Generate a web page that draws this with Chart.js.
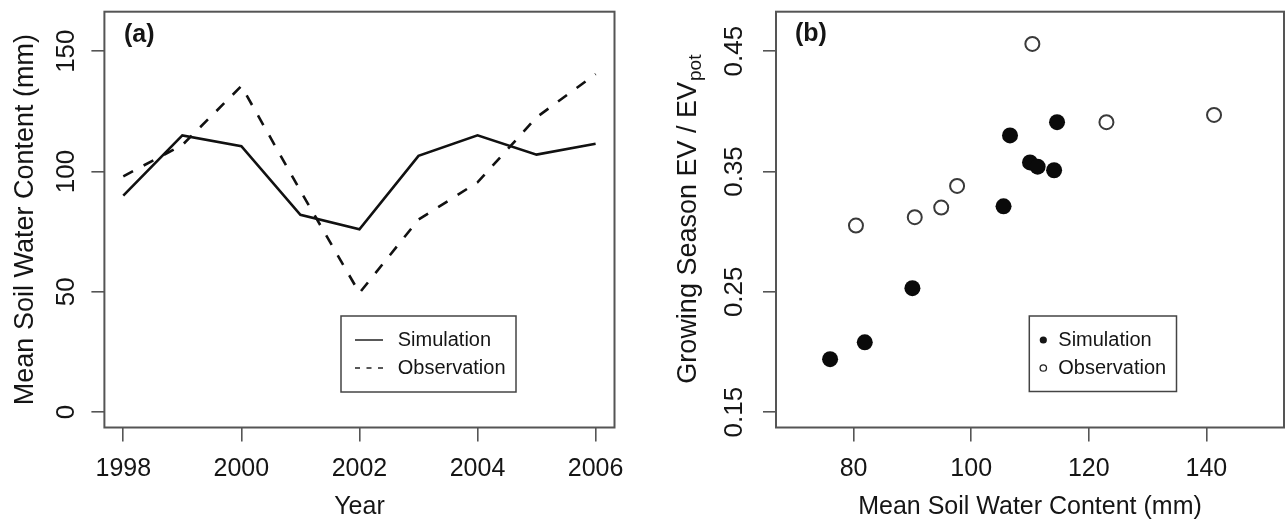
<!DOCTYPE html>
<html>
<head>
<meta charset="utf-8">
<script src="https://cdn.jsdelivr.net/npm/chart.js@4.4.0/dist/chart.umd.min.js"></script>
<style>
  html, body { margin: 0; padding: 0; background: #fff; }
  .panel { position: absolute; top: 0; width: 643px; height: 524px; }
  #left { left: 0; }
  #right { left: 643px; }
</style>
</head>
<body>
<div class="panel" id="left"><canvas id="soilChart"></canvas></div>
<div class="panel" id="right"><canvas id="ratioChart"></canvas></div>
<script>
// panel (a): yearly mean soil water content
const years = [1998, 1999, 2000, 2001, 2002, 2003, 2004, 2005, 2006];
const simulated = [90, 115, 110.5, 82, 76, 106.5, 115, 107, 111.5];
const observed = [98, 111, 135.5, 92, 49.5, 80, 95.5, 122.5, 140.5];
const yearTicks = [1998, 2000, 2002, 2004, 2006];
const soilTicks = [0, 50, 100, 150];

// panel (b): EV / EVpot against soil water
const simSoil = [76.0, 81.9, 90.0, 105.5, 106.6, 110.0, 111.3, 114.1, 114.6];
const simRatio = [0.194, 0.208, 0.253, 0.321, 0.380, 0.3575, 0.354, 0.351, 0.391];
const obsSoil = [80.4, 90.4, 94.9, 97.6, 110.4, 123.0, 141.3];
const obsRatio = [0.305, 0.312, 0.320, 0.338, 0.456, 0.391, 0.397];
const soilAxisTicks = [80, 100, 120, 140];
const ratioTicks = [0.15, 0.25, 0.35, 0.45];

const FONT = '"Liberation Sans", Arial, sans-serif';
const INK = '#151515';
Chart.defaults.font.family = FONT;
Chart.defaults.color = INK;

// R style box round the plot region
const frame = {
    id: 'frame',
    afterDatasetsDraw(chart) {
        const a = chart.chartArea, ctx = chart.ctx;
        ctx.save();
        ctx.strokeStyle = '#555';
        ctx.lineWidth = 2;
        ctx.strokeRect(a.left, a.top, a.right - a.left, a.bottom - a.top);
        ctx.restore();
    }
};

// panel letter + legend box inside the plot
const boxLegend = {
    id: 'boxLegend',
    afterDraw(chart, args, o) {
        const ctx = chart.ctx;
        ctx.save();
        ctx.fillStyle = INK;
        ctx.font = 'bold 25px ' + FONT;
        ctx.textBaseline = 'middle';
        ctx.fillText(o.tag, o.tagX, o.tagY);

        ctx.strokeStyle = '#444';
        ctx.lineWidth = 1.5;
        ctx.strokeRect(o.x, o.y, o.w, o.h);
        ctx.font = '20px ' + FONT;
        chart.data.datasets.forEach((ds, i) => {
            const cy = o.y + 24 + i * 28;
            ctx.strokeStyle = '#222';
            ctx.fillStyle = INK;
            if (o.kind === 'line') {
                ctx.lineWidth = 1.5;
                ctx.setLineDash(ds.borderDash && ds.borderDash.length ? [5, 6.5] : []);
                ctx.beginPath();
                ctx.moveTo(o.x + 14, cy);
                ctx.lineTo(o.x + 42, cy);
                ctx.stroke();
                ctx.setLineDash([]);
            } else {
                ctx.beginPath();
                if (ds.backgroundColor === 'transparent') {
                    ctx.lineWidth = 1.3;
                    ctx.arc(o.x + 14, cy, 3.2, 0, Math.PI * 2);
                    ctx.stroke();
                } else {
                    ctx.arc(o.x + 14, cy, 3.6, 0, Math.PI * 2);
                    ctx.fill();
                }
            }
            ctx.fillStyle = INK;
            ctx.fillText(ds.label, o.x + o.textX, cy);
        });
        ctx.restore();
    }
};

// y title with subscript for panel (b)
const subTitle = {
    id: 'subTitle',
    afterDraw(chart) {
        const ctx = chart.ctx, a = chart.chartArea;
        ctx.save();
        ctx.translate(45.5, (a.top + a.bottom) / 2);
        ctx.rotate(-Math.PI / 2);
        ctx.fillStyle = INK;
        ctx.textBaseline = 'middle';
        ctx.textAlign = 'left';
        ctx.font = '27px ' + FONT;
        const main = 'Growing Season EV / EV';
        const mw = ctx.measureText(main).width;
        ctx.font = '19px ' + FONT;
        const sw = ctx.measureText('pot').width;
        const x0 = -(mw + sw) / 2;
        ctx.font = '27px ' + FONT;
        ctx.fillText(main, x0, 0);
        ctx.font = '19px ' + FONT;
        ctx.fillText('pot', x0 + mw + 1, 7);
        ctx.restore();
    }
};

function tickGrid(len) {
    return { drawOnChartArea: false, drawTicks: true, tickLength: len, color: '#555', lineWidth: 1.6 };
}

// fixed axis sizes so the plot box lands where the figure has it
function fixSize(prop, val) {
    return s => {
        s[prop] = val;
        s.paddingTop = 0; s.paddingBottom = 0;
        s.paddingLeft = 0; s.paddingRight = 0;
    };
}

new Chart(document.getElementById('soilChart'), {
    type: 'line',
    data: {
        datasets: [
            {
                label: 'Simulation',
                data: years.map((y, i) => ({ x: y, y: simulated[i] })),
                borderColor: '#111',
                borderWidth: 2.6,
                borderDash: [],
                pointRadius: 0,
                tension: 0
            },
            {
                label: 'Observation',
                data: years.map((y, i) => ({ x: y, y: observed[i] })),
                borderColor: '#111',
                borderWidth: 2.6,
                borderDash: [11, 12],
                pointRadius: 0,
                tension: 0
            }
        ]
    },
    options: {
        responsive: true,
        maintainAspectRatio: false,
        animation: false,
        layout: { autoPadding: false, padding: { top: 11.7, right: 28.5, left: 0, bottom: 0 } },
        plugins: {
            legend: { display: false },
            tooltip: { enabled: false },
            boxLegend: { tag: '(a)', tagX: 124, tagY: 35, kind: 'line', x: 341, y: 316, w: 175, h: 76, textX: 56.7 }
        },
        scales: {
            x: {
                type: 'linear',
                min: 1997.68,
                max: 2006.32,
                afterBuildTicks: s => { s.ticks = yearTicks.map(v => ({ value: v })); },
                afterFit: fixSize('height', 96.5),
                border: { display: false },
                grid: tickGrid(14),
                ticks: { padding: 13, font: { size: 25 }, callback: v => String(v) },
                title: { display: true, text: 'Year', font: { size: 25 }, padding: { top: 0, bottom: 2 } }
            },
            y: {
                min: -6.4,
                max: 166.4,
                afterBuildTicks: s => { s.ticks = soilTicks.map(v => ({ value: v })); },
                afterFit: fixSize('width', 104.4),
                border: { display: false },
                grid: tickGrid(13),
                ticks: { minRotation: 90, maxRotation: 90, crossAlign: 'center', padding: 3, font: { size: 26 }, callback: v => String(v) },
                title: { display: true, text: 'Mean Soil Water Content (mm)', font: { size: 27 }, padding: { top: 9, bottom: 0 } }
            }
        }
    },
    plugins: [frame, boxLegend]
});

new Chart(document.getElementById('ratioChart'), {
    type: 'scatter',
    data: {
        datasets: [
            {
                label: 'Simulation',
                data: simSoil.map((x, i) => ({ x: x, y: simRatio[i] })),
                backgroundColor: '#0a0a0a',
                borderColor: '#0a0a0a',
                borderWidth: 0,
                pointRadius: 8
            },
            {
                label: 'Observation',
                data: obsSoil.map((x, i) => ({ x: x, y: obsRatio[i] })),
                backgroundColor: 'transparent',
                borderColor: '#3a3a3a',
                borderWidth: 2,
                pointRadius: 7
            }
        ]
    },
    options: {
        responsive: true,
        maintainAspectRatio: false,
        animation: false,
        layout: { autoPadding: false, padding: { top: 11.7, right: 2, left: 0, bottom: 0 } },
        plugins: {
            legend: { display: false },
            tooltip: { enabled: false },
            boxLegend: { tag: '(b)', tagX: 152, tagY: 34, kind: 'dot', x: 386.3, y: 316, w: 147.2, h: 75.5, textX: 29 }
        },
        scales: {
            x: {
                type: 'linear',
                min: 66.8,
                max: 153.2,
                afterBuildTicks: s => { s.ticks = soilAxisTicks.map(v => ({ value: v })); },
                afterFit: fixSize('height', 96.5),
                border: { display: false },
                grid: tickGrid(14),
                ticks: { padding: 13, font: { size: 25 }, callback: v => String(v) },
                title: { display: true, text: 'Mean Soil Water Content (mm)', font: { size: 25 }, padding: { top: 0, bottom: 2 } }
            },
            y: {
                min: 0.1372,
                max: 0.4828,
                afterBuildTicks: s => { s.ticks = ratioTicks.map(v => ({ value: v })); },
                afterFit: fixSize('width', 133),
                border: { display: false },
                grid: tickGrid(13),
                ticks: { minRotation: 90, maxRotation: 90, crossAlign: 'center', padding: 3, font: { size: 26 }, callback: v => v.toFixed(2) },
                title: { display: false }
            }
        }
    },
    plugins: [frame, boxLegend, subTitle]
});
</script>
</body>
</html>
